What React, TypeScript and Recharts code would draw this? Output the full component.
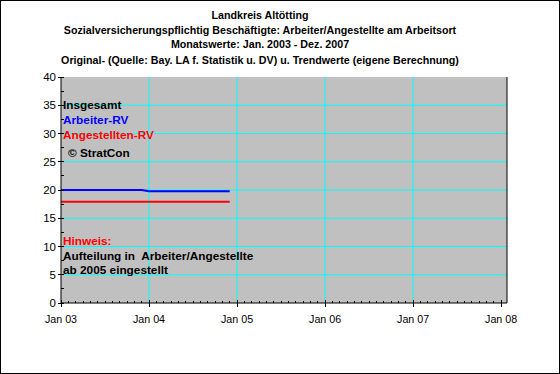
import React from 'react';
import { ComposedChart, Line, XAxis, YAxis, CartesianGrid } from 'recharts';

const arbeiterRV = [20.0, 20.0, 20.0, 20.0, 20.0, 20.0, 20.0, 20.0, 20.0, 20.0, 20.0, 20.0,
  19.8, 19.8, 19.8, 19.8, 19.8, 19.8, 19.8, 19.8, 19.8, 19.8, 19.8, 19.8];
const angestelltenRV = [17.9, 17.9, 17.9, 17.9, 17.9, 17.9, 17.9, 17.9, 17.9, 17.9, 17.9, 17.9,
  17.9, 17.9, 17.9, 17.9, 17.9, 17.9, 17.9, 17.9, 17.9, 17.9, 17.9, 17.9];
const xTickLabels = ['Jan 03', 'Jan 04', 'Jan 05', 'Jan 06', 'Jan 07', 'Jan 08'];
const xMonthTicks = [0, 1, 2, 3, 4, 5, 6, 7, 8, 9, 10, 11, 12, 13, 14, 15, 16, 17, 18, 19, 20,
  21, 22, 23, 24, 25, 26, 27, 28, 29, 30, 31, 32, 33, 34, 35, 36, 37, 38, 39, 40, 41, 42, 43, 44,
  45, 46, 47, 48, 49, 50, 51, 52, 53, 54, 55, 56, 57, 58, 59, 60];
const leftTicks = [0, 2.5, 5, 7.5, 10, 12.5, 15, 17.5, 20, 22.5, 25, 27.5, 30, 32.5, 35, 37.5, 40];
const rightTicks = [-5, -2.5, 0, 2.5, 5, 7.5, 10, 12.5, 15, 17.5, 20, 22.5, 25, 27.5, 30, 32.5, 35, 37.5, 40];
const gridY = [5, 10, 15, 20, 25, 30, 35];
const gridX = [12, 24, 36, 48];
const titles = [
  'Landkreis Altötting',
  'Sozialversicherungspflichtig Beschäftigte: Arbeiter/Angestellte am Arbeitsort',
  'Monatswerte: Jan. 2003 - Dez. 2007',
  'Original- (Quelle: Bay. LA f. Statistik u. DV) u. Trendwerte (eigene Berechnung)',
];

const data = arbeiterRV.map((v, i) => ({ m: i, arb: v, ang: angestelltenRV[i] }));

const FONT = '"Liberation Sans", Arial, sans-serif';

const XTick = (props: any) => {
  const { x, y, payload } = props;
  const v = payload.value;
  if (v % 12 === 0) {
    return (
      <g>
        <line x1={x} x2={x} y1={y - 3} y2={y + 4} stroke="#000" shapeRendering="crispEdges" />
        <text x={x} y={y + 20} textAnchor="middle" fontSize={10.7} fontFamily={FONT} fill="#000">
          {xTickLabels[v / 12]}
        </text>
      </g>
    );
  }
  return <line x1={x} x2={x} y1={y - 2} y2={y} stroke="#000" shapeRendering="crispEdges" />;
};

const LeftTick = (props: any) => {
  const { x, y, payload } = props;
  const v = payload.value;
  if (v % 5 === 0) {
    return (
      <g>
        <line x1={x - 3} x2={x + 3} y1={y} y2={y} stroke="#000" shapeRendering="crispEdges" />
        <text x={x - 5} y={y + 4} textAnchor="end" fontSize={11.5} fontFamily={FONT} fill="#000">
          {v}
        </text>
      </g>
    );
  }
  return <line x1={x} x2={x + 3} y1={y} y2={y} stroke="#000" shapeRendering="crispEdges" />;
};

const RightTick = (props: any) => {
  const { x, y, payload } = props;
  const v = payload.value;
  if (v % 5 === 0) {
    return (
      <g>
        <line x1={x - 2} x2={x + 4} y1={y} y2={y} stroke="#000" shapeRendering="crispEdges" />
        <text x={x + 6} y={y + 4} textAnchor="start" fontSize={11.5} fontFamily={FONT} fill="#000">
          {v}
        </text>
      </g>
    );
  }
  return <line x1={x - 3} x2={x} y1={y} y2={y} stroke="#000" shapeRendering="crispEdges" />;
};

const note = (top: number, left: number, color: string, text: string) => (
  <div
    style={{
      position: 'absolute', top: top - 7, left, height: 14, lineHeight: '14px',
      fontFamily: FONT, fontSize: 11.8, fontWeight: 'bold', color, whiteSpace: 'pre',
    }}
  >
    {text}
  </div>
);

export default function App() {
  return (
    <div style={{ position: 'absolute', left: 0, top: 0, width: 560, height: 374, background: '#fff', overflow: 'hidden' }}>
      <ComposedChart width={560} height={374} data={data} margin={{ top: 77, right: 0, bottom: 0, left: 0 }}>
        <CartesianGrid
          fill="#C0C0C0"
          stroke="#00FFFF"
          strokeDasharray=""
          horizontalValues={gridY}
          verticalValues={gridX}
          yAxisId="l"
        />
        <XAxis
          dataKey="m"
          type="number"
          domain={[0, 60.8]}
          ticks={xMonthTicks}
          interval={0}
          allowDataOverflow
          height={71}
          tickSize={0}
          tickMargin={0}
          tickLine={false}
          axisLine={{ stroke: '#000' }}
          tick={<XTick />}
        />
        <YAxis
          yAxisId="l"
          orientation="left"
          type="number"
          domain={[0, 40]}
          ticks={leftTicks}
          interval={0}
          width={61}
          tickSize={0}
          tickMargin={0}
          tickLine={false}
          axisLine={{ stroke: '#000' }}
          tick={<LeftTick />}
        />
        <YAxis
          yAxisId="r"
          orientation="right"
          type="number"
          domain={[-5, 40]}
          ticks={rightTicks}
          interval={0}
          width={53}
          tickSize={0}
          tickMargin={0}
          tickLine={false}
          axisLine={{ stroke: '#000' }}
          tick={<RightTick />}
        />
        <Line yAxisId="l" dataKey="arb" stroke="#0000FF" strokeWidth={2} dot={false} isAnimationActive={false} />
        <Line yAxisId="l" dataKey="ang" stroke="#FF0000" strokeWidth={2} dot={false} isAnimationActive={false} />
      </ComposedChart>
      {titles.map((t, i) => (
        <div
          key={i}
          style={{
            position: 'absolute', left: 0, width: 520, top: [15, 30, 44, 60][i] - 7, height: 14,
            lineHeight: '14px', textAlign: 'center', fontFamily: FONT, fontSize: 10.7, fontWeight: 'bold',
            color: '#000', whiteSpace: 'nowrap',
          }}
        >
          {t}
        </div>
      ))}
      {note(105, 63, '#000', 'Insgesamt')}
      {note(120, 63, '#0000FF', 'Arbeiter-RV')}
      {note(135, 63, '#FF0000', 'Angestellten-RV')}
      {note(153, 68, '#000', '© StratCon')}
      {note(241, 63, '#FF0000', 'Hinweis:')}
      {note(256, 63, '#000', 'Aufteilung in  Arbeiter/Angestellte')}
      {note(270, 63, '#000', 'ab 2005 eingestellt')}
      <div style={{ position: 'absolute', left: 0, top: 0, width: 560, height: 374, boxSizing: 'border-box', border: '1px solid #000', pointerEvents: 'none' }} />
    </div>
  );
}
